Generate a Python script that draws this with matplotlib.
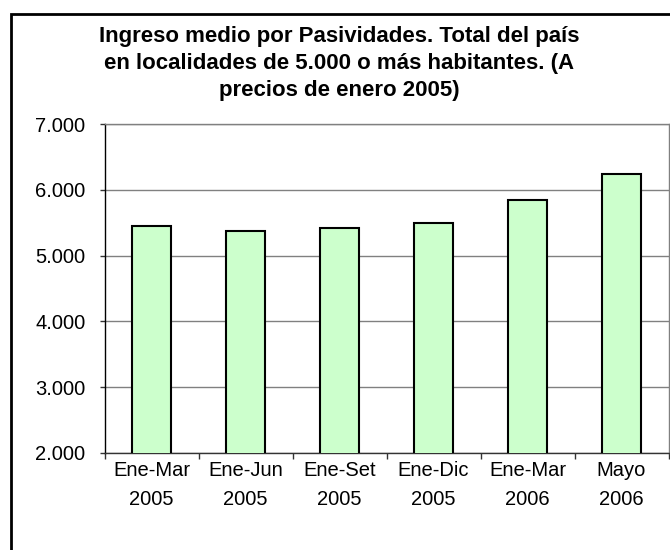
import matplotlib
matplotlib.use('Agg')
import matplotlib.pyplot as plt
from matplotlib.patches import Rectangle
from matplotlib.ticker import FixedLocator, NullFormatter, FuncFormatter

categories = ["Ene-Mar\n2005", "Ene-Jun\n2005", "Ene-Set\n2005",
              "Ene-Dic\n2005", "Ene-Mar\n2006", "Mayo\n2006"]
values = [5455, 5370, 5425, 5490, 5850, 6245]
yticks = [2000, 3000, 4000, 5000, 6000, 7000]
title_lines = ["Ingreso medio por Pasividades. Total del país",
               "en localidades de 5.000 o más habitantes. (A",
               "precios de enero 2005)"]

plt.rcParams['font.family'] = ['Liberation Sans', 'DejaVu Sans']

W, H = 670, 550
fig = plt.figure(figsize=(W / 100, H / 100), dpi=100)
ax = fig.add_axes([104.5 / W, 1 - 453 / H, (668.5 - 104.5) / W, (453 - 124) / H])

x = list(range(len(categories)))
ax.bar(x, values, width=0.41, color='#CCFFCC', edgecolor='black',
       linewidth=1.5, zorder=3)
ax.set_xlim(-0.5, len(categories) - 0.5)
ax.set_ylim(yticks[0], yticks[-1])
ax.set_yticks(yticks)
ax.yaxis.set_major_formatter(FuncFormatter(lambda v, p: f"{v:,.0f}".replace(',', '.')))
ax.grid(axis='y', color='#808080', linewidth=1, zorder=0)

ax.xaxis.set_major_locator(FixedLocator([i - 0.5 for i in range(len(categories) + 1)]))
ax.xaxis.set_major_formatter(NullFormatter())
ax.xaxis.set_minor_locator(FixedLocator(x))
ax.set_xticklabels(categories, minor=True, linespacing=1.7)
ax.tick_params(axis='x', which='minor', length=0, pad=5.5, labelsize=14.5)
ax.tick_params(axis='x', which='major', length=4.3, width=1, color='#333333')
ax.tick_params(axis='y', length=3.6, width=1, pad=10, labelsize=14.5, color='#333333')

ax.spines['left'].set_color('black')
ax.spines['bottom'].set_color('#333333')
ax.spines['right'].set_color('#808080')
ax.spines['top'].set_color('#808080')
for s in ax.spines.values():
    s.set_linewidth(1)

for i, line in enumerate(title_lines):
    fig.text(339 / W, 1 - (42 + 27 * i) / H, line, ha='center', va='baseline',
             fontsize=16, fontweight='bold')

fig.patches.append(Rectangle((10.5 / W, -0.1), 1.0, (H - 13.5) / H + 0.1,
                             transform=fig.transFigure, fill=False,
                             edgecolor='black', linewidth=2, clip_on=False))

fig.savefig('out.png', dpi=100)
